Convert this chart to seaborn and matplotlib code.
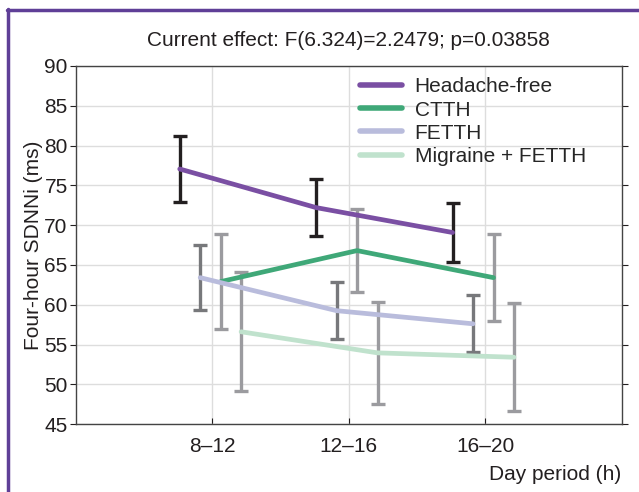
import numpy as np
import pandas as pd
import matplotlib.pyplot as plt
from matplotlib.lines import Line2D
import seaborn as sns

# data
periods = ['8–12', '12–16', '16–20']
groups = ['Headache-free', 'CTTH', 'FETTH', 'Migraine + FETTH']
means = {
    'Headache-free': [77.05, 72.2, 69.07],
    'CTTH': [62.9, 66.8, 63.4],
    'FETTH': [63.4, 59.25, 57.6],
    'Migraine + FETTH': [56.6, 53.95, 53.4],
}
errors = {
    'Headache-free': [4.1, 3.55, 3.67],
    'CTTH': [6.0, 5.2, 5.45],
    'FETTH': [4.1, 3.55, 3.6],
    'Migraine + FETTH': [7.5, 6.45, 6.8],
}
offsets = {'Headache-free': -0.24, 'CTTH': 0.06, 'FETTH': -0.09, 'Migraine + FETTH': 0.21}
line_colors = {'Headache-free': '#7a4fa3', 'CTTH': '#3fa878',
               'FETTH': '#b9bcdc', 'Migraine + FETTH': '#c0e2cd'}
err_colors = {'Headache-free': '#231f20', 'CTTH': '#9b9b9f',
              'FETTH': '#77787b', 'Migraine + FETTH': '#9b9b9f'}

rows = []
for g in groups:
    for i, p in enumerate(periods):
        rows.append({'group': g, 'x': i + 1 + offsets[g], 'value': means[g][i], 'err': errors[g][i]})
df = pd.DataFrame(rows)

sns.set_style('white')
plt.rcParams['font.family'] = ['Liberation Sans', 'DejaVu Sans']
fs = 15

fig = plt.figure(figsize=(6.39, 4.92), dpi=100)
ax = fig.add_axes([0.119, 0.138, 0.854, 0.728])

ax.set_axisbelow(True)
ax.grid(True, color='#dddddd', linewidth=1.0)

# error bars drawn first, then the lines on top
for g in groups:
    sub = df[df['group'] == g]
    ax.errorbar(sub['x'], sub['value'], yerr=sub['err'], fmt='none',
                ecolor=err_colors[g], elinewidth=2.4, capsize=5, capthick=2.4, zorder=2)

sns.lineplot(data=df, x='x', y='value', hue='group', hue_order=groups,
             palette=line_colors, linewidth=3.4, ax=ax, zorder=3)

ax.set_xlim(0, 4)
ax.set_ylim(45, 90)
ax.set_xticks([1, 2, 3])
ax.set_xticklabels(periods)
ax.set_yticks(np.arange(45, 91, 5))
ax.tick_params(axis='both', labelsize=fs, colors='#231f20')
ax.tick_params(axis='y', direction='out', length=4, width=0.8, right=True, left=True, pad=2)
ax.tick_params(axis='x', direction='in', length=4, width=0.8, bottom=True, pad=9)
for s in ax.spines.values():
    s.set_color('#444444')
    s.set_linewidth(1.0)

ax.set_title('Current effect: F(6.324)=2.2479; p=0.03858', fontsize=fs,
             color='#231f20', pad=14)
ax.set_xlabel('Day period (h)', fontsize=fs, color='#231f20')
ax.xaxis.set_label_coords(1.0, -0.142)
ax.xaxis.label.set_horizontalalignment('right')
ax.xaxis.label.set_verticalalignment('center')
ax.set_ylabel('Four-hour SDNNi (ms)', fontsize=fs, color='#231f20', labelpad=1)

handles = [Line2D([0], [0], color=line_colors[g], linewidth=4) for g in groups]
ax.legend(handles, groups, loc='upper left', bbox_to_anchor=(0.5, 1.0), frameon=False,
          fontsize=fs, handlelength=2.0, handletextpad=0.6, labelspacing=0.2,
          borderaxespad=0.15)

# purple frame on top and left
frame_col = '#5f3f97'
fig.add_artist(Line2D([0.011, 1.0], [0.979, 0.979], color=frame_col, linewidth=2.5,
                      transform=fig.transFigure))
fig.add_artist(Line2D([0.013, 0.013], [0.0, 0.981], color=frame_col, linewidth=2.5,
                      transform=fig.transFigure))

fig.savefig('out.png', dpi=100)
